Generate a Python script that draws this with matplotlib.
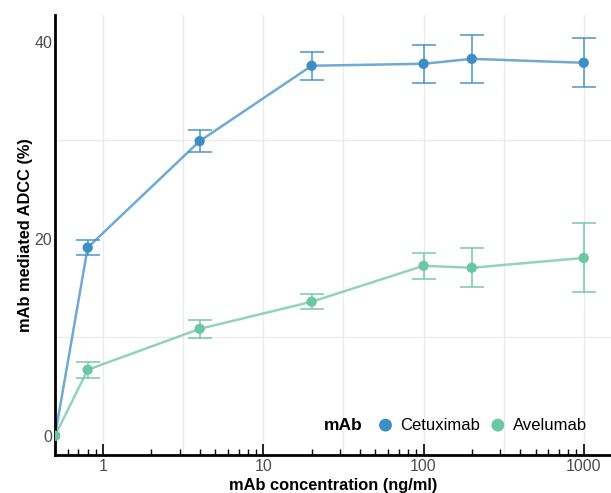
import numpy as np
import matplotlib
matplotlib.use("Agg")
import matplotlib.pyplot as plt
from matplotlib.ticker import LogLocator, NullFormatter

plt.rcParams['font.family'] = ['Liberation Sans', 'DejaVu Sans']

conc = [0.5, 0.8, 4, 20, 100, 200, 1000]
cetux_mean = [0.0, 19.1, 29.9, 37.55, 37.75, 38.25, 37.85]
cetux_err = [0.0, 0.8, 1.1, 1.4, 1.9, 2.4, 2.5]
avel_mean = [0.0, 6.7, 10.85, 13.6, 17.25, 17.05, 18.05]
avel_err = [0.0, 0.8, 0.9, 0.75, 1.3, 2.0, 3.5]
series = ["Cetuximab", "Avelumab"]
colors = ["#3d8ec4", "#6cc6a3"]
x_ticks = [1, 10, 100, 1000]
x_tick_labels = ["1", "10", "100", "1000"]
y_ticks = [0, 20, 40]

fig = plt.figure(figsize=(6.11, 4.93), dpi=100)
ax = fig.add_axes([55/611, 1-455/493, 1-55/611, (455-15)/493])

ax.set_xscale('log')
ax.set_xlim(0.5, 1480)
ax.set_ylim(-1.95, 42.7)

# grid
for v in [1, 10, 100, 1000, 10**0.5, 10**1.5, 10**2.5]:
    ax.axvline(v, color='#ebebeb', lw=1.0, zorder=0)
for v in [10, 30]:
    ax.axhline(v, color='#ebebeb', lw=1.0, zorder=0)

for mean, err, col, name in [(cetux_mean, cetux_err, colors[0], series[0]),
                             (avel_mean, avel_err, colors[1], series[1])]:
    ax.plot(conc, mean, color=col, lw=1.8, alpha=0.75, zorder=2)
    ax.errorbar(conc[1:], mean[1:], yerr=err[1:], fmt='none', ecolor=col,
                elinewidth=1.2, capsize=8.5, capthick=1.2, alpha=0.85, zorder=3)
    ax.scatter(conc, mean, s=55, color=col, zorder=4, label=name, edgecolors='none')

ax.set_xticks(x_ticks)
ax.set_xticklabels(x_tick_labels)
ax.xaxis.set_minor_locator(LogLocator(base=10, subs=np.arange(2, 10), numticks=20))
ax.xaxis.set_minor_formatter(NullFormatter())
ax.set_yticks(y_ticks)
ax.tick_params(axis='x', which='major', direction='in', length=8, width=1.2,
               labelsize=11.5, labelcolor='#4d4d4d', pad=3, color='black')
ax.tick_params(axis='x', which='minor', direction='in', length=4, width=1.0, color='black')
ax.tick_params(axis='y', which='both', length=0, labelsize=11.5, labelcolor='#4d4d4d', pad=2)

for s in ['top', 'right']:
    ax.spines[s].set_visible(False)
for s in ['left', 'bottom']:
    ax.spines[s].set_linewidth(2.0)
    ax.spines[s].set_color('black')

ax.set_xlabel("mAb concentration (ng/ml)", fontsize=11.8, fontweight='bold', labelpad=3)
ax.set_ylabel("mAb mediated ADCC (%)", fontsize=11.8, fontweight='bold', labelpad=1)

# legend
handles, labels = ax.get_legend_handles_labels()
leg = ax.legend(handles, labels, ncol=2, loc='center right',
                bbox_to_anchor=(587/611, 1-425/493), bbox_transform=fig.transFigure,
                frameon=False, fontsize=12.0, handletextpad=0.3, columnspacing=0.45,
                borderpad=0, borderaxespad=0, handlelength=1.2, markerscale=1.25)
fig.text(363/611, 1-426/493, "mAb", ha='right', va='center', fontsize=12.5,
         fontweight='bold')

fig.savefig("out.png", dpi=100)
